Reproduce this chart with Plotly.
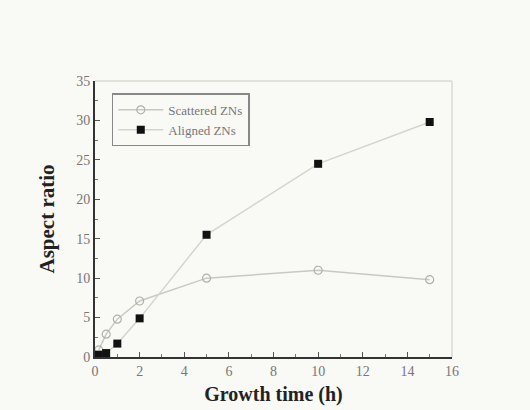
import plotly.graph_objects as go

time_scattered = [0.17, 0.5, 1, 2, 5, 10, 15]
ratio_scattered = [0.9, 2.9, 4.8, 7.1, 10.0, 11.0, 9.8]
time_aligned = [0.17, 0.5, 1, 2, 5, 10, 15]
ratio_aligned = [0.3, 0.5, 1.7, 4.9, 15.5, 24.5, 29.8]

x_ticks = [0, 2, 4, 6, 8, 10, 12, 14, 16]
y_ticks = [0, 5, 10, 15, 20, 25, 30, 35]

serif = "Liberation Serif"
bg = "#f9f9f6"

fig = go.Figure()
fig.add_trace(go.Scatter(
    x=time_scattered, y=ratio_scattered, name="Scattered ZNs",
    mode="lines+markers",
    line=dict(color="#c8c8c4", width=1.5),
    marker=dict(symbol="circle-open", size=8, color="#b0b0ac", line=dict(width=1.2)),
))
fig.add_trace(go.Scatter(
    x=time_aligned, y=ratio_aligned, name="Aligned ZNs",
    mode="lines+markers",
    line=dict(color="#d4d4d0", width=1.5),
    marker=dict(symbol="square", size=8, color="#111111"),
))

axis_common = dict(
    showgrid=False, zeroline=False, showline=True, linecolor="#333333", linewidth=2,
    ticks="inside", ticklen=5, tickwidth=1, tickcolor="#555555",
    tickfont=dict(family=serif, size=14, color="#777777"),
)
fig.update_xaxes(
    range=[0, 16], tickvals=x_ticks,
    minor=dict(ticks="inside", ticklen=3, dtick=1, tickcolor="#777777"),
    title=dict(text="<b>Growth time (h)</b>", font=dict(family=serif, size=20, color="#222222"), standoff=9),
    **axis_common,
)
fig.update_yaxes(
    range=[0, 35], tickvals=y_ticks,
    minor=dict(ticks="inside", ticklen=3, dtick=2.5, tickcolor="#777777"),
    title=dict(text="<b>Aspect ratio</b>", font=dict(family=serif, size=21, color="#222222"), standoff=16),
    **axis_common,
)

fig.add_shape(type="line", xref="paper", yref="paper", x0=0, x1=1, y0=1, y1=1,
              line=dict(color="#d8d8d4", width=1.5))
fig.add_shape(type="line", xref="paper", yref="paper", x0=1, x1=1, y0=0, y1=1,
              line=dict(color="#d8d8d4", width=1.5))

fig.update_layout(
    width=530, height=410,
    margin=dict(l=87, r=86, t=73, b=61),
    paper_bgcolor=bg, plot_bgcolor=bg,
    showlegend=True,
    legend=dict(
        x=0.047, y=0.955, xanchor="left", yanchor="top",
        bgcolor="rgba(0,0,0,0)", bordercolor="#888888", borderwidth=1.5,
        font=dict(family=serif, size=13, color="#777777"),
        tracegroupgap=0, itemwidth=45,
    ),
)

fig.write_html("out.html", post_script="document.body.style.background='%s';" % bg)
